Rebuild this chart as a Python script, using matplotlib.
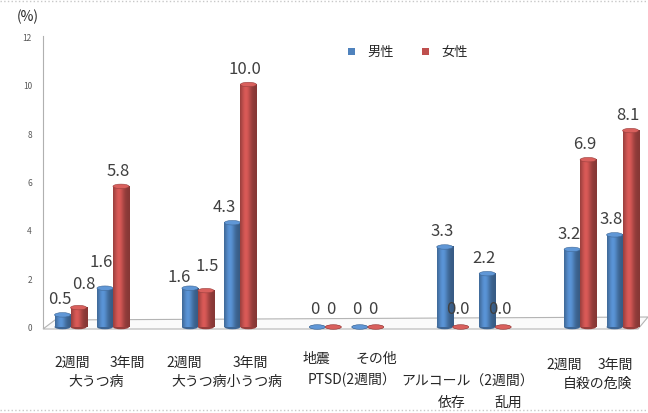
import numpy as np
import matplotlib
matplotlib.use("Agg")
import matplotlib.pyplot as plt
from matplotlib.patches import Ellipse, Polygon, Rectangle
from matplotlib.lines import Line2D
from matplotlib.transforms import blended_transform_factory

plt.rcParams["font.family"] = ["Noto Sans CJK JP", "DejaVu Sans"]

# ── Data (%): prevalence by sex ───────────────────────────────────────────────
SUB_LABELS = ["2週間", "3年間", "2週間", "3年間", "地震", "その他",
              "依存", "乱用", "2週間", "3年間"]
GROUP_LABELS = ["大うつ病", "大うつ病小うつ病", "PTSD(2週間）",
                "アルコール（2週間）", "自殺の危険"]
MALE   = [0.5, 1.6, 1.6, 4.3, 0, 0, 3.3, 2.2, 3.2, 3.8]
FEMALE = [0.8, 5.8, 1.5, 10.0, 0, 0, 0.0, 0.0, 6.9, 8.1]
DECIMALS = [1, 1, 1, 1, 0, 0, 1, 1, 1, 1]
SERIES = ["男性", "女性"]
YTICKS = [0, 2, 4, 6, 8, 10, 12]

# slot index of each category (gap slot between pairs)
SLOTS = [0, 1, 3, 4, 6, 7, 9, 10, 12, 13]

W, H = 648, 414
BLUE = np.array([0.31, 0.51, 0.74])
RED = np.array([0.75, 0.31, 0.30])

fig = plt.figure(figsize=(W / 100, H / 100), dpi=100)
ax = fig.add_axes([43 / W, (H - 328) / H, (640 - 43) / W, (328 - 37) / H])
ax.set_xlim(-0.648, 13.41)
ax.set_ylim(0, 12)
px_per_y = (328 - 37) / 12.0

for s in ["top", "right", "bottom"]:
    ax.spines[s].set_visible(False)
ax.spines["left"].set_color("#b0b0b0")
ax.spines["left"].set_linewidth(0.8)
ax.set_xticks([])
ax.set_yticks(YTICKS)
ax.tick_params(axis="y", length=0, pad=8, labelsize=6, labelcolor="#595959")

# 3-D floor
tr = blended_transform_factory(ax.transAxes, ax.transData)
floor = Polygon([(0.0, -2 / px_per_y), ((55 - 43) / 597, 7 / px_per_y),
                 ((648 - 43) / 597, 10 / px_per_y), ((638 - 43) / 597, -2 / px_per_y)],
                closed=True, transform=tr, facecolor="#fafafa",
                edgecolor="#b4b4b4", lw=0.8, clip_on=False, zorder=1)
ax.add_patch(floor)


def shade(base, n=40):
    t = np.linspace(0, 1, n)
    f = 0.70 + 0.44 * np.exp(-((t - 0.35) / 0.3) ** 2)
    return np.clip(base[None, :] * f[:, None], 0, 1)[None, :, :]


bw = 16 / 42.46
off = 8 / 42.46
cap_h = 4.5 / px_per_y


def cylinder(xc, v, base, z):
    x0, x1 = xc - bw / 2, xc + bw / 2
    ax.add_patch(Ellipse((xc, 0), bw, cap_h, facecolor=base * 0.78,
                         edgecolor="none", zorder=z, clip_on=False))
    if v > 0:
        ax.imshow(shade(base), extent=(x0, x1, 0, v), aspect="auto",
                  interpolation="bilinear", zorder=z + 0.1)
    top = np.clip(base * 1.08 + 0.04, 0, 1)
    ax.add_patch(Ellipse((xc, v), bw, cap_h, facecolor=top,
                         edgecolor=base * 0.8, lw=0.4, zorder=z + 0.2,
                         clip_on=False))


# label offsets in pixels (dx, dy) where the default would collide
NUDGE = {(1, 0): (5.5, 24), (0, 1): (-3.5, 27), (0, 2): (-10.5, 12),
         (1, 2): (1.5, 25), (0, 3): (-8, 16)}

for si, (vals, base) in enumerate([(MALE, BLUE), (FEMALE, RED)]):
    z = 2 + 2 * si
    for ci, (slot, v) in enumerate(zip(SLOTS, vals)):
        xc = slot + (-off if si == 0 else off)
        cylinder(xc, v, base, z)
        dx, dy = NUDGE.get((si, ci), (-3, 18 if v == 0 else 16))
        ax.annotate(f"{v:.{DECIMALS[ci]}f}", (xc, v), xytext=(dx, dy),
                    textcoords="offset pixels", ha="center", va="center",
                    fontsize=12, color="#404040", zorder=z + 1,
                    annotation_clip=False)

ax.set_xlim(-0.648, 13.41)
ax.set_ylim(0, 12)


def ftext(px, py, s, **kw):
    fig.text(px / W, 1 - py / H, s, ha="center", va="center",
             color="#262626", **kw)


# category labels
sub_pos = [(72, 363), (127, 363), (184, 363), (250, 363), (316, 359),
           (376, 359), (452, 403), (508, 403), (564, 365), (615, 365)]
grp_pos = [(96, 382), (227, 382), (352, 380), (468, 382), (597, 384)]
for s, (px, py) in zip(SUB_LABELS, sub_pos):
    ftext(px, py, s, fontsize=10)
for s, (px, py) in zip(GROUP_LABELS, grp_pos):
    ftext(px, py, s, fontsize=10)

ftext(28, 17, "(%)", fontsize=10)

# legend
for name, col, px in zip(SERIES, [BLUE, RED], [348, 422]):
    fig.add_artist(Rectangle((px / W, 1 - 56 / H), 7 / W, 7 / H,
                             transform=fig.transFigure, facecolor=col,
                             edgecolor="none"))
    fig.text((px + 19) / W, 1 - 52 / H, name, ha="left", va="center",
             fontsize=9.5, color="#262626")

# dotted frame lines
for py in (1.5, 411):
    fig.add_artist(Line2D([0, 1], [1 - py / H, 1 - py / H],
                          transform=fig.transFigure, color="#c8c8c8",
                          lw=1, ls=":"))

fig.savefig("out.png", dpi=100, facecolor="white")
